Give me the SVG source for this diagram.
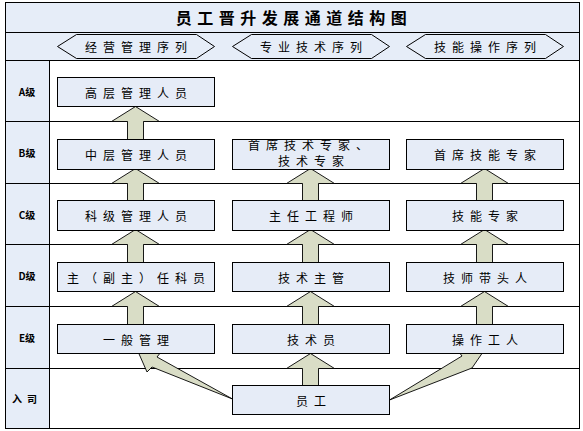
<svg xmlns="http://www.w3.org/2000/svg" width="583" height="431" viewBox="0 0 583 431">
<style>
.bg{fill:#e6edf8}
.ln{stroke:#000;stroke-width:1;fill:none}
.hex{fill:none;stroke:#000;stroke-width:1}
.box{fill:#e6ecf7;stroke:#000;stroke-width:1}
.arr{fill:#d9ddc6;stroke:#000;stroke-width:0.9;stroke-linejoin:miter}
.t{font-family:"Noto Sans CJK SC","Noto Sans",sans-serif;font-size:12px;letter-spacing:6px;text-anchor:middle;dominant-baseline:central;fill:#000}
.title{font-family:"Noto Sans CJK SC","Noto Sans",sans-serif;font-size:16px;font-weight:bold;letter-spacing:5.5px;text-anchor:middle;dominant-baseline:central;fill:#000}
.lv{font-family:"Noto Sans CJK SC","Liberation Serif",serif;font-size:10px;font-weight:bold;text-anchor:middle;dominant-baseline:central;fill:#000}
</style>
<rect width="583" height="431" fill="#fff"/>
<g id="grid">
<rect class="bg" x="5.5" y="2.5" width="574" height="58"/>
<rect class="bg" x="5.5" y="60.5" width="44" height="368"/>
<rect class="ln" x="5.5" y="2.5" width="574" height="426"/>
<path class="ln" d="M5.5 32.5H579.5M5.5 60.5H579.5M5.5 121.5H579.5M5.5 183.5H579.5M5.5 244.5H579.5M5.5 306.5H579.5M5.5 368.5H579.5M49.5 60.5V428.5"/>
</g>
<g id="title"><text class="title" x="294" y="17">员工晋升发展通道结构图</text></g>
<g id="series">
<g id="series-1"><polygon class="hex" points="57.5,46.5 76.5,34.5 196.5,34.5 214.5,46.5 196.5,58.5 76.5,58.5"/><text class="t" x="139" y="46.5">经营管理序列</text></g>
<g id="series-2"><polygon class="hex" points="232.5,46.5 251.5,34.5 371.5,34.5 389.5,46.5 371.5,58.5 251.5,58.5"/><text class="t" x="314" y="46.5">专业技术序列</text></g>
<g id="series-3"><polygon class="hex" points="406.5,46.5 425.5,34.5 545.5,34.5 563.5,46.5 545.5,58.5 425.5,58.5"/><text class="t" x="488" y="46.5">技能操作序列</text></g>
</g>
<g id="levels">
<text class="lv" x="27" y="91">A级</text>
<text class="lv" x="27" y="152.5">B级</text>
<text class="lv" x="27" y="214">C级</text>
<text class="lv" x="27" y="275.5">D级</text>
<text class="lv" x="27" y="337.5">E级</text>
<text class="lv" x="27" y="398.5" style="letter-spacing:5px">入司</text>
</g>
<g id="connectors">
<polygon class="arr" points="135.5,106.5 159.5,121.5 143.5,121.5 143.5,139.5 127.5,139.5 127.5,121.5 111.5,121.5"/>
<polygon class="arr" points="135.5,168.5 159.5,183.5 143.5,183.5 143.5,200.5 127.5,200.5 127.5,183.5 111.5,183.5"/>
<polygon class="arr" points="135.5,229.5 159.5,244.5 143.5,244.5 143.5,262.5 127.5,262.5 127.5,244.5 111.5,244.5"/>
<polygon class="arr" points="135.5,291.5 159.5,306.5 143.5,306.5 143.5,324.5 127.5,324.5 127.5,306.5 111.5,306.5"/>
<polygon class="arr" points="310.5,168.5 334.5,183.5 318.5,183.5 318.5,200.5 302.5,200.5 302.5,183.5 286.5,183.5"/>
<polygon class="arr" points="310.5,229.5 334.5,244.5 318.5,244.5 318.5,262.5 302.5,262.5 302.5,244.5 286.5,244.5"/>
<polygon class="arr" points="310.5,291.5 334.5,306.5 318.5,306.5 318.5,324.5 302.5,324.5 302.5,306.5 286.5,306.5"/>
<polygon class="arr" points="310.5,353.5 334.5,368.5 318.5,368.5 318.5,385.5 302.5,385.5 302.5,368.5 286.5,368.5"/>
<polygon class="arr" points="484.5,168.5 508.5,183.5 492.5,183.5 492.5,200.5 476.5,200.5 476.5,183.5 460.5,183.5"/>
<polygon class="arr" points="484.5,229.5 508.5,244.5 492.5,244.5 492.5,262.5 476.5,262.5 476.5,244.5 460.5,244.5"/>
<polygon class="arr" points="484.5,291.5 508.5,306.5 492.5,306.5 492.5,324.5 476.5,324.5 476.5,306.5 460.5,306.5"/>
<polygon class="arr" points="232.5,399 152,367 147,372 136,347 165,347 157,357"/>
<polygon class="arr" points="389.5,400 472,368 483,352 470,345 455,347 462,356"/>
</g>
<g id="n-a1"><rect class="box" x="57.5" y="77.5" width="157" height="29"/><text class="t" x="139" y="92">高层管理人员</text></g>
<g id="n-b1"><rect class="box" x="57.5" y="139.5" width="157" height="30"/><text class="t" x="139" y="154.5">中层管理人员</text></g>
<g id="n-b2"><rect class="box" x="232.5" y="139.5" width="157" height="30"/><text class="t" x="311" y="144">首席技术专家、</text><text class="t" x="314" y="160.5">技术专家</text></g>
<g id="n-b3"><rect class="box" x="406.5" y="139.5" width="157" height="30"/><text class="t" x="488" y="154.5">首席技能专家</text></g>
<g id="n-c1"><rect class="box" x="57.5" y="200.5" width="157" height="30"/><text class="t" x="139" y="215.5">科级管理人员</text></g>
<g id="n-c2"><rect class="box" x="232.5" y="200.5" width="157" height="30"/><text class="t" x="314" y="215.5">主任工程师</text></g>
<g id="n-c3"><rect class="box" x="406.5" y="200.5" width="157" height="30"/><text class="t" x="488" y="215.5">技能专家</text></g>
<g id="n-d1"><rect class="box" x="57.5" y="262.5" width="157" height="29"/><text class="t" x="139" y="277">主（副主）任科员</text></g>
<g id="n-d2"><rect class="box" x="232.5" y="262.5" width="157" height="29"/><text class="t" x="314" y="277">技术主管</text></g>
<g id="n-d3"><rect class="box" x="406.5" y="262.5" width="157" height="29"/><text class="t" x="488" y="277">技师带头人</text></g>
<g id="n-e1"><rect class="box" x="57.5" y="324.5" width="157" height="29"/><text class="t" x="139" y="339">一般管理</text></g>
<g id="n-e2"><rect class="box" x="232.5" y="324.5" width="157" height="29"/><text class="t" x="314" y="339">技术员</text></g>
<g id="n-e3"><rect class="box" x="406.5" y="324.5" width="157" height="29"/><text class="t" x="488" y="339">操作工人</text></g>
<g id="n-staff"><rect class="box" x="232.5" y="385.5" width="157" height="29"/><text class="t" x="314" y="400">员工</text></g>
</svg>
